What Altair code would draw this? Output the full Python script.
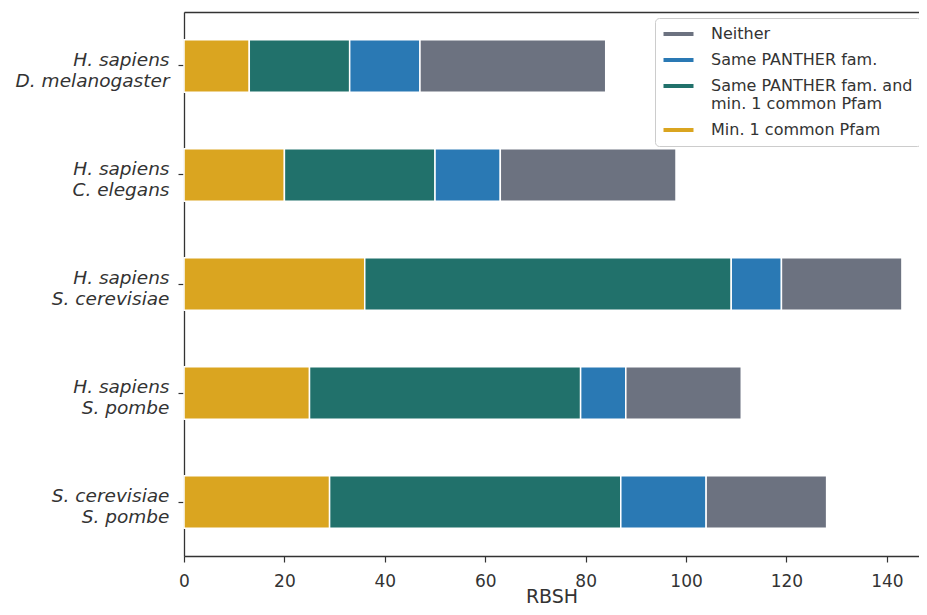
import altair as alt
import pandas as pd

# ---- data ----
pairs = [
    "H. sapiens|D. melanogaster",
    "H. sapiens|C. elegans",
    "H. sapiens|S. cerevisiae",
    "H. sapiens|S. pombe",
    "S. cerevisiae|S. pombe",
]
categories = [
    "Min. 1 common Pfam",
    "Same PANTHER fam. and|min. 1 common Pfam",
    "Same PANTHER fam.",
    "Neither",
]
min_pfam = [13, 20, 36, 25, 29]
panther_and_pfam = [20, 30, 73, 54, 58]
panther_only = [14, 13, 10, 9, 17]
neither = [37, 35, 24, 23, 24]
colors = ["#DAA520", "#21716B", "#2A79B4", "#6C7280"]
x_ticks = [0, 20, 40, 60, 80, 100, 120, 140]

series = [min_pfam, panther_and_pfam, panther_only, neither]
rows = []
for ci, (cat, vals) in enumerate(zip(categories, series)):
    for p, v in zip(pairs, vals):
        rows.append({"pair": p, "category": cat, "value": v, "order": ci})
df = pd.DataFrame(rows)

legend_order = categories[::-1]
legend_colors = colors[::-1]

W, H = 735, 544
X_MAX = 146.4
FONT = "DejaVu Sans"
INK = "#333333"

x_scale = alt.Scale(domain=[0, X_MAX], nice=False, zero=True)

bars = alt.Chart(df).mark_bar(stroke="white", strokeWidth=1.5).encode(
    x=alt.X(
        "value:Q",
        stack="zero",
        scale=x_scale,
        axis=alt.Axis(
            values=x_ticks,
            title="RBSH",
            grid=False,
            labelFontSize=17,
            labelFont=FONT,
            labelColor=INK,
            labelPadding=11,
            tickSize=6,
            tickColor=INK,
            tickWidth=1.2,
            domainColor=INK,
            domainWidth=1.3,
            titleFont=FONT,
            titleFontSize=19,
            titleFontWeight="normal",
            titleColor=INK,
            titlePadding=-2,
            labelFlush=False,
        ),
    ),
    y=alt.Y(
        "pair:N",
        sort=pairs,
        scale=alt.Scale(paddingInner=0.52, paddingOuter=0.255),
        axis=alt.Axis(
            title=None,
            labelExpr="split(datum.label, '|')",
            labelFontStyle="italic",
            labelFont=FONT,
            labelFontSize=18.5,
            labelLineHeight=21,
            labelAlign="right",
            labelBaseline="middle",
            labelPadding=9,
            labelOffset=-6,
            labelColor=INK,
            tickSize=6,
            tickColor=INK,
            tickWidth=1.2,
            domainColor=INK,
            domainWidth=1.3,
        ),
    ),
    color=alt.Color(
        "category:N",
        scale=alt.Scale(domain=legend_order, range=legend_colors),
        legend=alt.Legend(
            title=None,
            orient="none",
            legendX=471,
            legendY=6,
            labelExpr="split(datum.label, '|')",
            labelFont=FONT,
            labelFontSize=16,
            labelColor=INK,
            labelOffset=32,
            symbolType="M-1,-0.27L3,-0.27L3,0.27L-1,0.27Z",
            symbolSize=225,
            symbolStrokeWidth=0,
            rowPadding=10,
            padding=8,
            strokeColor="#cccccc",
            cornerRadius=4,
            fillColor="white",
            labelLimit=400,
        ),
    ),
    order=alt.Order("order:Q", sort="ascending"),
)

# top spine drawn as a bare top-oriented x axis (domain line only)
spine_df = pd.DataFrame({"value": [0]})
top_spine = alt.Chart(spine_df).mark_point(opacity=0).encode(
    x=alt.X(
        "value:Q",
        scale=x_scale,
        axis=alt.Axis(
            orient="top",
            title=None,
            labels=False,
            ticks=False,
            grid=False,
            domainColor=INK,
            domainWidth=1.3,
        ),
    )
)

# hide the right edge of the plot frame (the reference is cut before it)
right_cover = alt.Chart(spine_df).mark_rule(color="white", strokeWidth=3).encode(
    x=alt.value(W), y=alt.value(2), y2=alt.value(H - 2)
)

chart = (
    alt.layer(bars, top_spine, right_cover)
    .resolve_axis(x="independent")
    .properties(
        width=W,
        height=H,
        autosize=alt.AutoSizeParams(type="none"),
        padding={"left": 176, "top": 4, "right": 0, "bottom": 51},
    )
    .configure_view(stroke=None, strokeWidth=0)
    .configure(background="white")
)

chart.save("out.html", embed_options={"renderer": "svg", "actions": False})
